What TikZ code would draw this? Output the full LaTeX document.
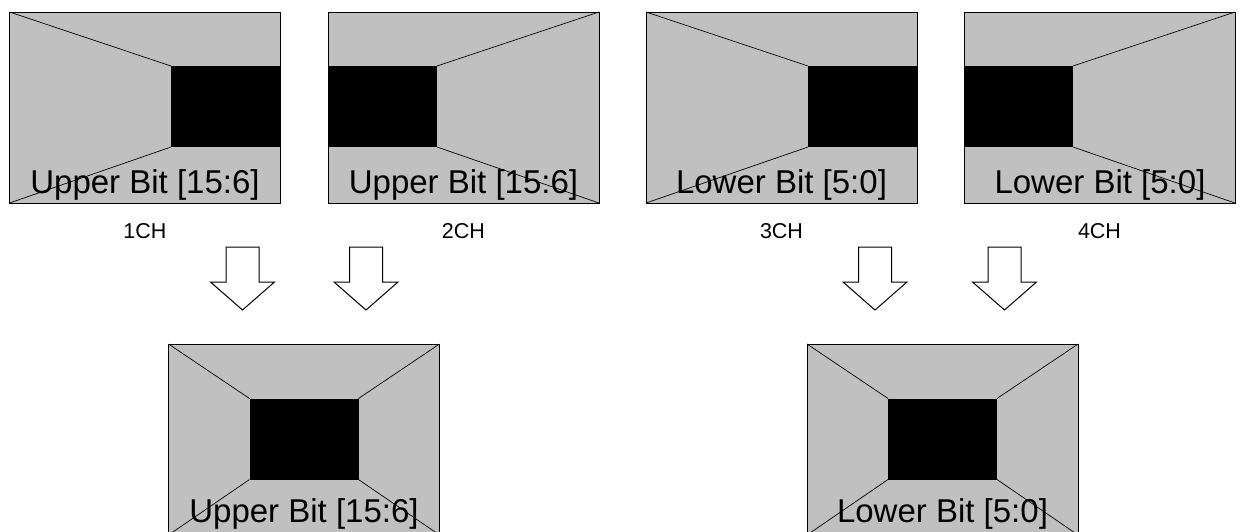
\documentclass[tikz,border=0pt]{standalone}
\usepackage{fontspec}
\setmainfont{Liberation Sans}
\begin{document}
\begin{tikzpicture}[x=1pt,y=-1pt,
  panel/.style={draw=black,line width=0.8pt,fill=panelgray,minimum width=271pt,minimum height=191pt,outer sep=0pt,inner sep=0pt},
  blk/.style={fill=black,minimum width=109pt,minimum height=81pt,outer sep=0pt,inner sep=0pt},
  ray/.style={draw=black,line width=0.7pt},
  big/.style={font=\fontsize{33}{36}\selectfont,anchor=base,inner sep=0pt},
  ch/.style={font=\fontsize{21.5}{24}\selectfont,inner sep=0pt},
  barrow/.pic={\draw[line width=1pt,fill=white,line join=miter] (-16.5,-35) -- (16.5,-35) -- (16.5,0) -- (32,0) -- (0,28) -- (-32,0) -- (-16.5,0) -- cycle;}
]
\definecolor{panelgray}{HTML}{C0C0C0}
\useasboundingbox (0,0) rectangle (1240,531);
\clip (0,0) rectangle (1240,531);
% top panels
\node[panel] (p1) at (145,107.5) {};
\node[panel] (p2) at (463.5,107.5) {};
\node[panel] (p3) at (781.5,107.5) {};
\node[panel] (p4) at (1099.5,107.5) {};
\node[blk] (b1) at (225.5,106.5) {};
\node[blk] (b2) at (382.5,106.5) {};
\node[blk] (b3) at (862.5,106.5) {};
\node[blk] (b4) at (1018.5,106.5) {};
\draw[ray] (p1.north west) -- (b1.north west);
\draw[ray] (p1.south west) -- (b1.south west);
\draw[ray] (p2.north east) -- (b2.north east);
\draw[ray] (p2.south east) -- (b2.south east);
\draw[ray] (p3.north west) -- (b3.north west);
\draw[ray] (p3.south west) -- (b3.south west);
\draw[ray] (p4.north east) -- (b4.north east);
\draw[ray] (p4.south east) -- (b4.south east);
\node[big] (t1) at (145,193) {Upper Bit [15:6]};
\node[big] (t2) at (463.5,193) {Upper Bit [15:6]};
\node[big] (t3) at (781.5,193) {Lower Bit [5:0]};
\node[big] (t4) at (1100,193) {Lower Bit [5:0]};
% channel labels
\node[ch] (c1) at (145,231) {1CH};
\node[ch] (c2) at (463.5,231) {2CH};
\node[ch] (c3) at (781.5,231) {3CH};
\node[ch] (c4) at (1099.5,231) {4CH};
% arrows
\pic at (242.5,282) {barrow};
\pic at (366,282) {barrow};
\pic at (875,282) {barrow};
\pic at (1004.5,282) {barrow};
% bottom panels
\node[panel] (q1) at (304,439.5) {};
\node[panel] (q2) at (942.5,439.5) {};
\node[blk] (d1) at (304,439) {};
\node[blk] (d2) at (942.5,439) {};
\foreach \a in {north west,north east,south west,south east}{
  \draw[ray] (q1.\a) -- (d1.\a);
  \draw[ray] (q2.\a) -- (d2.\a);
}
\node[big] (u1) at (304,522) {Upper Bit [15:6]};
\node[big] (u2) at (942.5,522) {Lower Bit [5:0]};
\end{tikzpicture}
\end{document}
